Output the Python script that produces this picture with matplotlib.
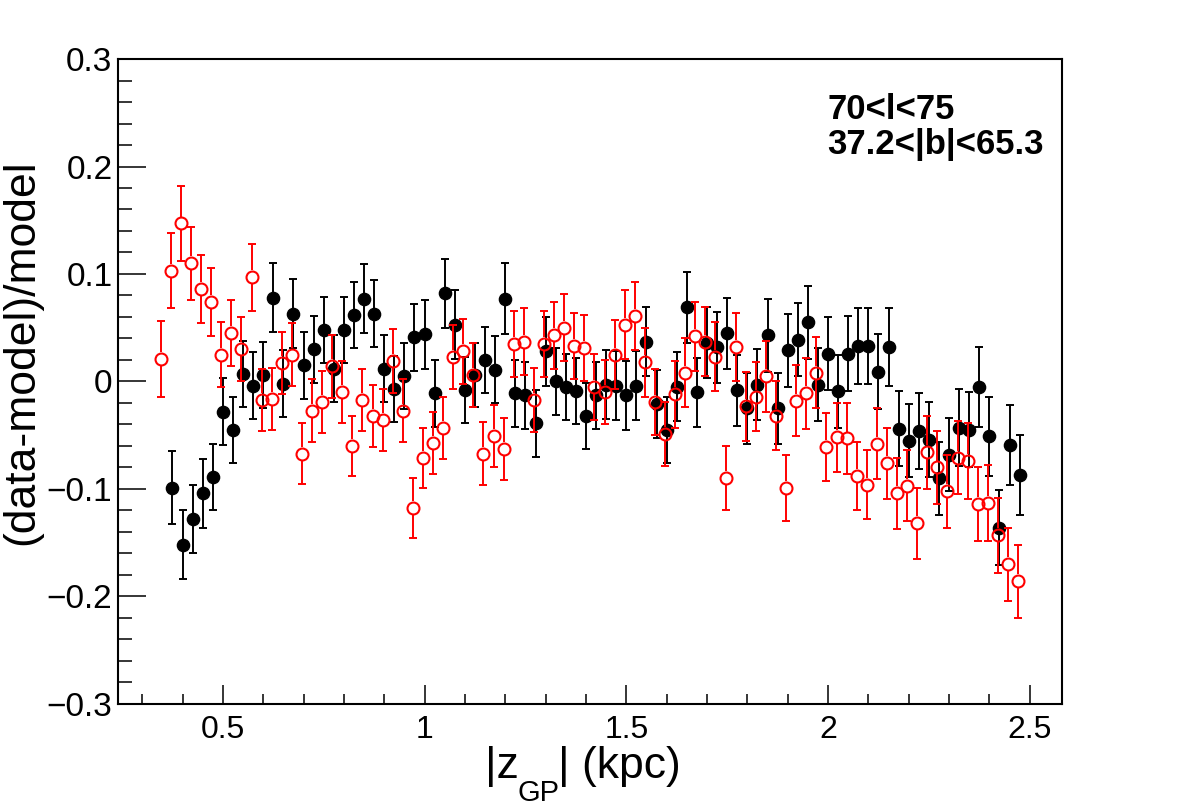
import numpy as np
import matplotlib.pyplot as plt
from matplotlib import font_manager
from matplotlib.ticker import MultipleLocator, FixedLocator, FixedFormatter

plt.rcParams['font.family'] = ['Liberation Sans', 'DejaVu Sans']

# bin centres in |z_GP| (kpc), 0.025 kpc bins
z_black = np.linspace(0.375, 2.475, 85)
z_red = np.linspace(0.346, 2.471, 86)

# filled black points
y_black = [-0.099, -0.152, -0.128, -0.104, -0.089, -0.028, -0.045, 0.007, -0.004, 0.006,
           0.078, -0.002, 0.063, 0.015, 0.030, 0.048, 0.012, 0.048, 0.062, 0.077,
           0.063, 0.012, -0.007, 0.005, 0.041, 0.044, -0.011, 0.082, 0.053, -0.008,
           0.006, 0.020, 0.011, 0.077, -0.011, -0.013, -0.039, 0.028, 0.000, -0.005,
           -0.009, -0.032, -0.013, -0.003, -0.004, -0.013, -0.004, 0.037, -0.021, -0.045,
           -0.005, 0.069, -0.010, 0.036, 0.032, 0.045, -0.008, -0.025, -0.003, 0.043,
           -0.025, 0.029, 0.039, 0.055, -0.003, 0.026, -0.009, 0.026, 0.033, 0.033,
           0.009, 0.032, -0.044, -0.055, -0.046, -0.054, -0.090, -0.068, -0.043, -0.045,
           -0.005, -0.051, -0.136, -0.059, -0.087]
e_black = [0.034, 0.032, 0.032, 0.032, 0.031, 0.031, 0.031, 0.031, 0.031, 0.031,
           0.032, 0.031, 0.032, 0.031, 0.031, 0.031, 0.031, 0.031, 0.031, 0.032,
           0.031, 0.031, 0.031, 0.031, 0.031, 0.032, 0.031, 0.032, 0.032, 0.031,
           0.030, 0.031, 0.031, 0.033, 0.031, 0.031, 0.031, 0.032, 0.031, 0.031,
           0.031, 0.031, 0.031, 0.032, 0.032, 0.032, 0.032, 0.032, 0.032, 0.031,
           0.032, 0.033, 0.032, 0.033, 0.033, 0.033, 0.033, 0.033, 0.033, 0.034,
           0.033, 0.034, 0.034, 0.034, 0.034, 0.034, 0.034, 0.035, 0.035, 0.035,
           0.035, 0.036, 0.035, 0.034, 0.035, 0.035, 0.034, 0.034, 0.036, 0.035,
           0.037, 0.037, 0.035, 0.037, 0.037]

# open red points
y_red = [0.021, 0.103, 0.147, 0.110, 0.086, 0.074, 0.025, 0.045, 0.030, 0.097,
         -0.017, -0.016, 0.017, 0.025, -0.067, -0.027, -0.019, 0.014, -0.010, -0.060,
         -0.017, -0.032, -0.036, 0.019, -0.027, -0.118, -0.071, -0.057, -0.043, 0.023,
         0.028, 0.006, -0.067, -0.051, -0.063, 0.035, 0.037, -0.017, 0.035, 0.043,
         0.050, 0.033, 0.031, -0.005, -0.010, 0.025, 0.053, 0.061, 0.018, -0.019,
         -0.049, -0.012, 0.008, 0.042, 0.037, 0.023, -0.090, 0.032, -0.023, -0.014,
         0.005, -0.032, -0.099, -0.018, -0.011, 0.008, -0.061, -0.052, -0.053, -0.088,
         -0.096, -0.058, -0.076, -0.104, -0.097, -0.132, -0.066, -0.080, -0.102, -0.071,
         -0.074, -0.114, -0.113, -0.143, -0.170, -0.186]
e_red = [0.035, 0.035, 0.035, 0.034, 0.032, 0.032, 0.030, 0.031, 0.030, 0.031,
         0.029, 0.029, 0.029, 0.029, 0.028, 0.029, 0.029, 0.029, 0.029, 0.028,
         0.029, 0.029, 0.029, 0.030, 0.029, 0.028, 0.028, 0.029, 0.029, 0.030,
         0.030, 0.030, 0.029, 0.029, 0.029, 0.031, 0.031, 0.030, 0.031, 0.031,
         0.031, 0.031, 0.031, 0.031, 0.030, 0.032, 0.032, 0.032, 0.032, 0.031,
         0.030, 0.031, 0.032, 0.032, 0.032, 0.032, 0.030, 0.032, 0.032, 0.032,
         0.033, 0.032, 0.031, 0.033, 0.033, 0.033, 0.032, 0.032, 0.033, 0.032,
         0.032, 0.033, 0.033, 0.033, 0.033, 0.033, 0.034, 0.034, 0.034, 0.034,
         0.035, 0.034, 0.035, 0.035, 0.034, 0.034]

x_ticks = [0.5, 1.0, 1.5, 2.0, 2.5]
x_ticklabels = ['0.5', '1', '1.5', '2', '2.5']
y_ticks = [-0.3, -0.2, -0.1, 0.0, 0.1, 0.2, 0.3]
y_ticklabels = ['\u22120.3', '\u22120.2', '\u22120.1', '0', '0.1', '0.2', '0.3']

fig = plt.figure(figsize=(11.82, 8.05), dpi=100)
ax = fig.add_axes([0.0998, 0.1255, 0.7987, 0.8012])
ax.set_xlim(0.24, 2.58)
ax.set_ylim(-0.3, 0.3)

# black: filled circles with error bars
ax.errorbar(z_black, y_black, yerr=e_black, fmt='o', color='black', ms=8.8,
            elinewidth=1.4, capsize=2.6, capthick=1.4, zorder=3)

# red: open circles, error bars stop at the marker edge like ROOT does
ms_red = 8.6
h_px = 0.8012 * 8.05 * 100
gap = (ms_red / 2 + 0.7) * 100 / 72 / (h_px / 0.6)
yr = np.array(y_red)
er = np.array(e_red)
ax.vlines(z_red, yr - er, yr - gap, color='red', lw=1.4, zorder=4)
ax.vlines(z_red, yr + gap, yr + er, color='red', lw=1.4, zorder=4)
ax.plot(z_red, yr + er, ls='none', marker='_', ms=5.2, mew=1.4, color='red', zorder=4)
ax.plot(z_red, yr - er, ls='none', marker='_', ms=5.2, mew=1.4, color='red', zorder=4)
ax.plot(z_red, yr, ls='none', marker='o', ms=ms_red, mfc='none', mec='red', mew=1.5, zorder=5)

ax.xaxis.set_major_locator(FixedLocator(x_ticks))
ax.xaxis.set_major_formatter(FixedFormatter(x_ticklabels))
ax.xaxis.set_minor_locator(MultipleLocator(0.1))
ax.yaxis.set_major_locator(FixedLocator(y_ticks))
ax.yaxis.set_major_formatter(FixedFormatter(y_ticklabels))
ax.yaxis.set_minor_locator(MultipleLocator(0.02))

ax.tick_params(axis='both', which='both', direction='in', top=False, right=False, width=1.1)
ax.tick_params(axis='y', which='major', length=20, pad=4, labelsize=24)
ax.tick_params(axis='y', which='minor', length=10)
ax.tick_params(axis='x', which='major', length=14, pad=8, labelsize=23)
ax.tick_params(axis='x', which='minor', length=7)
for s in ax.spines.values():
    s.set_linewidth(1.5)

fig.text(0.0186, 0.563, '(data-model)/model', rotation=90, ha='center', va='center', fontsize=32)

# x title: |z_GP| (kpc), subscript placed low as in ROOT
installed = {f.name for f in font_manager.fontManager.ttflist}
if 'Liberation Sans Narrow' in installed:
    xfam, xsize = 'Liberation Sans Narrow', 35
else:
    xfam, xsize = 'Liberation Sans', 32
ybase = 0.034
t1 = fig.text(0.410, ybase, '|z', fontsize=xsize, family=xfam, ha='left', va='baseline')
t2 = fig.text(0, 0, 'GP', fontsize=21, family=xfam, ha='left', va='baseline')
t3 = fig.text(0, 0, '| (kpc)', fontsize=xsize, family=xfam, ha='left', va='baseline')
fig.canvas.draw()
r = fig.canvas.get_renderer()
inv = fig.transFigure.inverted()
b1 = t1.get_window_extent(r)
x2 = inv.transform((b1.x1 - 1, 0))[0]
t2.set_position((x2, ybase - 23 / 805))
b2 = t2.get_window_extent(r)
x3 = inv.transform((b2.x1 - 1, 0))[0]
t3.set_position((x3, ybase))

fig.text(0.700, 0.852, '70<l<75', fontsize=25, fontweight='bold', va='baseline')
fig.text(0.700, 0.809, '37.2<|b|<65.3', fontsize=25, fontweight='bold', va='baseline')

fig.savefig('out.png', dpi=100)
